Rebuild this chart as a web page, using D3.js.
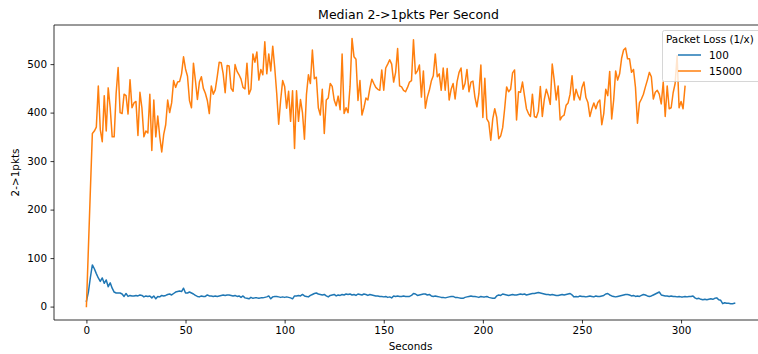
<!DOCTYPE html>
<html><head><meta charset="utf-8">
<script src="https://cdn.jsdelivr.net/npm/d3@7"></script>
<style>
html,body{margin:0;padding:0;background:#fff;}
svg{display:block;font-family:"DejaVu Sans",sans-serif;}
</style></head>
<body><svg id="c" width="758" height="354"></svg>
<script>
const title = "Median 2->1pkts Per Second";
const xLabel = "Seconds";
const yLabel = "2->1pkts";
const legendTitle = "Packet Loss (1/x)";
const seriesNames = ["100", "15000"];
const seriesColors = ["#1f77b4", "#ff7f0e"];
const xTicks = [0, 50, 100, 150, 200, 250, 300];
const yTicks = [0, 100, 200, 300, 400, 500];

// Loss 1/100, one value per second
const loss100 = [
11,30,60,86,78,68,59,52,59,48,55,41,49,38,30,28,28,28,26,21,27,
21,23,22,22,23,22,24,23,20,22,21,22,18,22,16,21,20,23,22,23,
25,26,24,27,30,31,32,31,38,28,28,30,28,26,23,21,20,22,21,21,
24,22,22,21,22,21,22,23,24,23,24,24,23,22,23,21,22,19,22,18,
17,16,19,17,18,18,17,18,18,19,20,22,16,20,21,21,20,19,20,19,
20,19,18,16,22,22,23,22,25,22,21,20,23,25,27,28,26,25,24,25,
22,20,23,24,25,22,24,23,25,24,26,25,26,24,25,23,26,25,24,26,25,23,25,24,23,22,22,
21,21,20,21,19,20,18,22,21,22,21,21,22,21,21,21,23,27,26,23,24,25,26,
26,24,25,22,21,22,21,20,19,19,18,19,20,21,21,19,19,18,17,17,19,20,21,22,21,21,20,19,21,20,
20,21,19,18,17,17,22,24,23,26,25,24,23,24,25,24,24,25,26,25,26,24,25,26,27,27,28,29,28,27,
26,25,25,24,25,24,23,23,24,25,24,25,26,27,24,20,21,20,22,21,21,20,21,22,21,20,22,21,21,22,
23,26,27,24,22,21,20,21,22,23,24,25,25,24,22,23,21,22,21,23,25,24,22,21,22,24,26,28,30,24,
23,22,22,21,22,21,21,20,21,20,20,21,20,21,21,22,18,16,17,15,14,15,14,15,16,15,17,18,14,13,6,8,7,7,6,6,7
];

// Loss 1/15000, one value per second
const loss15000 = [
0,120,240,357,362,370,455,365,340,435,362,451,410,350,350,440,493,400,398,438,
435,397,468,410,420,423,353,442,410,350,362,358,438,322,426,350,393,350,319,355,
375,426,400,420,466,452,463,464,480,515,490,475,425,410,502,466,427,463,474,450,
440,425,398,455,438,447,474,504,503,480,441,497,496,450,444,499,485,478,469,452,
449,502,438,448,521,504,525,467,489,478,546,480,521,486,537,493,440,376,426,466,
454,409,444,382,445,326,445,382,427,400,345,437,478,460,529,470,473,410,395,448,
357,426,430,460,454,426,414,434,406,521,398,410,400,454,553,515,510,425,466,395,
410,430,426,450,469,460,452,448,446,488,446,492,500,509,500,463,483,532,455,453,
446,443,452,463,466,550,480,486,498,432,486,409,432,446,465,476,521,474,480,446,
492,446,491,426,448,460,428,464,483,492,448,460,489,443,463,465,432,412,439,498,
390,471,387,380,343,387,408,390,346,352,369,408,453,443,448,482,488,385,443,442,
463,435,408,398,392,438,392,390,403,454,392,427,448,435,417,500,467,426,455,385,
392,395,415,420,438,476,426,448,435,426,452,463,431,421,392,408,420,408,421,426,
375,398,448,435,485,387,426,486,467,480,512,529,533,511,511,483,489,452,378,420,
428,438,453,467,483,474,428,442,446,438,418,463,392,455,408,410,441,460,517,410,
423,408,454
];

const series = [loss100, loss15000];

const svg = d3.select("#c");
const L = 54, R = 767, T = 25, B = 320;

const xMax = d3.max(series, s => s.length - 1);
const yMax = d3.max(series, s => d3.max(s));
const yMin = d3.min(series, s => d3.min(s));
const xPad = xMax * 0.05, yPad = (yMax - yMin) * 0.05;

const x = d3.scaleLinear().domain([-xPad, xMax + xPad]).range([L, R]);
const y = d3.scaleLinear().domain([yMin - yPad, yMax + yPad]).range([B, T]);

const line = d3.line().x((d, i) => x(i)).y(d => y(d));

const clipId = "plotclip";
svg.append("clipPath").attr("id", clipId).append("rect")
  .attr("x", L).attr("y", T).attr("width", R - L).attr("height", B - T);

const g = svg.append("g").attr("clip-path", `url(#${clipId})`);
series.forEach((s, k) => {
  g.append("path").datum(s)
    .attr("d", line)
    .attr("fill", "none")
    .attr("stroke", seriesColors[k])
    .attr("stroke-width", 1.5)
    .attr("stroke-linejoin", "round")
    .attr("stroke-linecap", "square");
});

// axes
const xAxis = d3.axisBottom(x).tickValues(xTicks).tickSize(3.5).tickPadding(3.5).tickFormat(d3.format("d"));
const yAxis = d3.axisLeft(y).tickValues(yTicks).tickSize(3.5).tickPadding(3.5).tickFormat(d3.format("d"));

const gx = svg.append("g").attr("transform", `translate(0,${B})`).call(xAxis);
const gy = svg.append("g").attr("transform", `translate(${L},0)`).call(yAxis);
[gx, gy].forEach(a => {
  a.select(".domain").remove();
  a.selectAll(".tick line").attr("stroke", "#000").attr("stroke-width", 0.8);
  a.selectAll(".tick text").attr("fill", "#000").style("font-size", "10.4px")
    .style("font-family", "DejaVu Sans, sans-serif");
});

// spines
const sp = svg.append("g").attr("stroke", "#000").attr("stroke-width", 0.8).attr("fill", "none");
sp.append("line").attr("x1", L).attr("x2", L).attr("y1", T).attr("y2", B);
sp.append("line").attr("x1", L).attr("x2", R).attr("y1", B).attr("y2", B);
sp.append("line").attr("x1", L).attr("x2", R).attr("y1", T).attr("y2", T);
sp.append("line").attr("x1", R).attr("x2", R).attr("y1", T).attr("y2", B);

// labels
svg.append("text").attr("x", (L + R) / 2 - 2).attr("y", 19).attr("text-anchor", "middle")
  .style("font-size", "12.5px").attr("fill", "#000").text(title);
svg.append("text").attr("x", (L + R) / 2).attr("y", 350).attr("text-anchor", "middle")
  .style("font-size", "10.4px").attr("fill", "#000").text(xLabel);
svg.append("text").attr("transform", `translate(19,${(T + B) / 2}) rotate(-90)`)
  .attr("text-anchor", "middle").style("font-size", "10.4px").attr("fill", "#000").text(yLabel);

// legend
const lg = svg.append("g");
lg.append("rect").attr("x", 662.5).attr("y", 30.5).attr("width", 110).attr("height", 51)
  .attr("rx", 2).attr("fill", "#fff").attr("fill-opacity", 0.8)
  .attr("stroke", "#ccc").attr("stroke-width", 0.8);
lg.append("text").attr("x", 666).attr("y", 43).style("font-size", "10.4px").attr("fill", "#000").text(legendTitle);
seriesNames.forEach((n, k) => {
  const yy = 55 + k * 16;
  lg.append("line").attr("x1", 678).attr("x2", 701).attr("y1", yy).attr("y2", yy)
    .attr("stroke", seriesColors[k]).attr("stroke-width", 1.5);
  lg.append("text").attr("x", 709).attr("y", yy + 3.7).style("font-size", "10.4px").attr("fill", "#000").text(n);
});
</script></body></html>
